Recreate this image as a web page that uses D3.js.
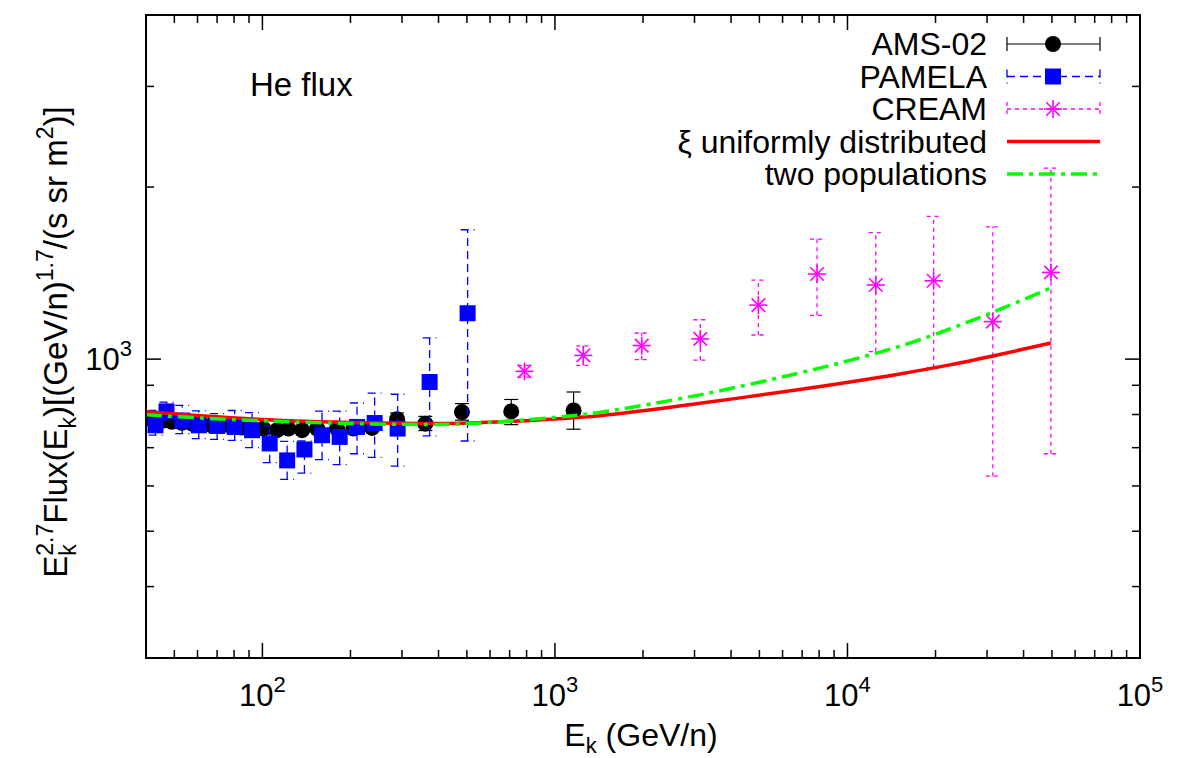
<!DOCTYPE html>
<html><head><meta charset="utf-8">
<script src="https://cdn.jsdelivr.net/npm/d3@7"></script>
<style>body{margin:0;background:#fff}svg{display:block}text{font-family:"Liberation Sans",Arial,Helvetica,sans-serif;fill:#000}</style>
</head><body><svg id="c" width="1184" height="758"></svg>
<script>
// ---- data ----
const amsE  = [42, 45.5, 49, 53, 57.5, 62, 67, 72.5, 78.5, 85, 92, 100.8, 112.3, 122.7, 136.7, 153.8, 179.9, 204.6, 237.1, 288.6, 360.5, 481, 709, 1158];
const amsF  = [783, 780, 777, 774, 771, 768, 766, 765, 762, 759, 756, 756, 751, 756, 751, 756, 756, 756, 758, 785, 771, 808, 810, 813];
const amsLo = [777, 774, 771, 768, 765, 762, 760, 759, 756, 753, 750, 750, 745, 750, 745, 749, 749, 748, 749, 767, 750, 782, 768, 754];
const amsHi = [789, 786, 783, 780, 777, 774, 772, 771, 768, 765, 762, 762, 757, 762, 757, 763, 763, 764, 767, 805, 794, 836, 850, 876];

const pamE  = [43.1, 47.0, 53.2, 60.6, 70.0, 80.4, 92.2, 105.9, 121.5, 139.2, 159.9, 183.7, 210.6, 241.9, 289.9, 372.9, 502.9];
const pamF  = [766, 810, 781, 766, 764, 761, 751, 712, 665, 695, 736, 731, 761, 773, 756, 912, 1203];
const pamLo = [736, 780, 741, 726, 724, 721, 700, 659, 616, 632, 667, 654, 683, 673, 650, 734, 719];
const pamHi = [813, 841, 830, 812, 803, 813, 806, 764, 718, 719, 811, 811, 838, 872, 868, 1089, 1684];

const creamE  = [787, 1250, 1980, 3140, 4960, 7870, 12500, 19700, 31400, 49600];
const creamF  = [952, 1015, 1056, 1085, 1243, 1409, 1348, 1371, 1163, 1418];
const creamLo = [930, 975, 998, 996, 1102, 1193, 1031, 966, 624, 683];
const creamHi = [975, 1055, 1111, 1172, 1375, 1622, 1664, 1777, 1704, 2158];

const uniE = [40, 61.4, 100, 170, 296, 475, 1000, 1425, 3130, 6870, 10180, 15090, 22360, 33150, 49600];
const uniF = [809, 796, 784, 776, 772, 772, 786, 796, 837, 885, 912, 942, 977, 1019, 1067];

const twoE = [40, 61.4, 100, 170, 296, 475, 1000, 1425, 3130, 6870, 10180, 15090, 22360, 33150, 49600];
const twoF = [799, 789, 780, 773, 769, 770, 791, 807, 866, 946, 995, 1053, 1129, 1222, 1332];

const xMajor = [1e2, 1e3, 1e4, 1e5];
const xMajorExp = ["2", "3", "4", "5"];
const yMajor = [1e3];
const yMajorExp = ["3"];
const legendLabels = ["AMS-02", "PAMELA", "CREAM", "ξ uniformly distributed", "two populations"];

// ---- drawing ----
const svg = d3.select("#c");
const L = 146, R = 1140, T = 15, B = 658;
const x = d3.scaleLog().domain([40, 1e5]).range([L, R]);
const y = d3.scaleLog().domain([300, 4000]).range([B, T]);
const FS = 32, TFS = 31, SFS = 22;

// ticks
const g = svg.append("g");
const xMinor = [];
for (let d = 10; d <= 1e4; d *= 10) for (let k = 2; k <= 9; k++) { const v = k * d; if (v > 40 && v < 1e5) xMinor.push(v); }
const yMinor = [];
for (let d = 100; d <= 1000; d *= 10) for (let k = 2; k <= 9; k++) { const v = k * d; if (v > 300 && v < 4000 && v !== 1000) yMinor.push(v); }
const tick = (x1, y1, x2, y2) => g.append("line").attr("x1", x1).attr("y1", y1).attr("x2", x2).attr("y2", y2).attr("stroke", "#000").attr("stroke-width", 1.5);
const MJ = 15, MN = 8;
xMajor.forEach(v => { tick(x(v), B, x(v), B - MJ); tick(x(v), T, x(v), T + MJ); });
xMinor.forEach(v => { tick(x(v), B, x(v), B - MN); tick(x(v), T, x(v), T + MN); });
yMajor.forEach(v => { tick(L, y(v), L + MJ, y(v)); tick(R, y(v), R - MJ, y(v)); });
yMinor.forEach(v => { tick(L, y(v), L + MN, y(v)); tick(R, y(v), R - MN, y(v)); });

// tick labels
xMajor.forEach((v, i) => {
  const t = svg.append("text").attr("x", x(v)).attr("y", 706).attr("text-anchor", "middle").attr("font-size", TFS);
  t.append("tspan").text("10");
  t.append("tspan").attr("dy", -14).attr("font-size", SFS).text(xMajorExp[i]);
});
yMajor.forEach((v, i) => {
  const t = svg.append("text").attr("x", 132).attr("y", y(v) + 11).attr("text-anchor", "end").attr("font-size", TFS);
  t.append("tspan").text("10");
  t.append("tspan").attr("dy", -14).attr("font-size", SFS).text(yMajorExp[i]);
});

// axis labels
{
  const t = svg.append("text").attr("x", 641).attr("y", 746).attr("text-anchor", "middle").attr("font-size", FS);
  t.append("tspan").text("E");
  t.append("tspan").attr("dy", 7).attr("font-size", SFS).text("k");
  t.append("tspan").attr("dy", -7).text(" (GeV/n)");
}
{
  const YF = 33, YS = 23;
  const t = svg.append("text").attr("transform", "translate(67,342) rotate(-90)").attr("text-anchor", "middle").attr("font-size", YF);
  t.append("tspan").text("E");
  t.append("tspan").attr("dy", 9).attr("font-size", YS).text("k");
  t.append("tspan").attr("dx", -11.5).attr("dy", -23).attr("font-size", YS).text("2.7");
  t.append("tspan").attr("dy", 14).text("Flux(E");
  t.append("tspan").attr("dy", 9).attr("font-size", YS).text("k");
  t.append("tspan").attr("dy", -9).text(")[(GeV/n)");
  t.append("tspan").attr("dy", -14).attr("font-size", YS).text("1.7");
  t.append("tspan").attr("dy", 14).text("/(s sr m");
  t.append("tspan").attr("dy", -14).attr("font-size", YS).text("2");
  t.append("tspan").attr("dy", 14).text(")]");
}
svg.append("text").attr("x", 250).attr("y", 96).attr("font-size", 33).text("He flux");

// clip
svg.append("clipPath").attr("id", "clip").append("rect").attr("x", L).attr("y", T).attr("width", R - L).attr("height", B - T);
const P = svg.append("g").attr("clip-path", "url(#clip)");

const CAP = 7;
function errbars(E, lo, hi, color, dash, w) {
  E.forEach((e, i) => {
    const px = x(e);
    const gg = P.append("g").attr("stroke", color).attr("stroke-width", w).attr("stroke-dasharray", dash);
    gg.append("line").attr("x1", px).attr("x2", px).attr("y1", y(lo[i])).attr("y2", y(hi[i]));
    gg.append("line").attr("x1", px - CAP).attr("x2", px + CAP).attr("y1", y(lo[i])).attr("y2", y(lo[i]));
    gg.append("line").attr("x1", px - CAP).attr("x2", px + CAP).attr("y1", y(hi[i])).attr("y2", y(hi[i]));
  });
}
function star(sel, cx, cy, r) {
  const gg = sel.append("g").attr("stroke", "#ff00ff").attr("stroke-width", 1.6);
  gg.append("line").attr("x1", cx - r).attr("x2", cx + r).attr("y1", cy).attr("y2", cy);
  gg.append("line").attr("x1", cx).attr("x2", cx).attr("y1", cy - r).attr("y2", cy + r);
  const d = r * 0.75;
  gg.append("line").attr("x1", cx - d).attr("x2", cx + d).attr("y1", cy - d).attr("y2", cy + d);
  gg.append("line").attr("x1", cx - d).attr("x2", cx + d).attr("y1", cy + d).attr("y2", cy - d);
}

// AMS
errbars(amsE, amsLo, amsHi, "#000", null, 1.2);
amsE.forEach((e, i) => P.append("circle").attr("cx", x(e)).attr("cy", y(amsF[i])).attr("r", 8).attr("fill", "#000"));
// PAMELA
errbars(pamE, pamLo, pamHi, "#0000ff", "8,5", 1.3);
pamE.forEach((e, i) => P.append("rect").attr("x", x(e) - 8).attr("y", y(pamF[i]) - 8).attr("width", 16).attr("height", 16).attr("fill", "#0000ff"));
// CREAM
errbars(creamE, creamLo, creamHi, "#ff00ff", "4,4", 1.3);
creamE.forEach((e, i) => star(P, x(e), y(creamF[i]), 9));

// curves
const line = d3.line().x(d => x(d[0])).y(d => y(d[1])).curve(d3.curveCatmullRom);
P.append("path").attr("d", line(uniE.map((e, i) => [e, uniF[i]]))).attr("fill", "none").attr("stroke", "#ff0000").attr("stroke-width", 3.5);
P.append("path").attr("d", line(twoE.map((e, i) => [e, twoF[i]]))).attr("fill", "none").attr("stroke", "#00ff00").attr("stroke-width", 3.5).attr("stroke-dasharray", "16,6,4,6");

// legend
const LY = [44, 76.5, 109, 141.5, 174];
const LX1 = 1007, LX2 = 1100, LM = 1053;
legendLabels.forEach((s, i) => svg.append("text").attr("x", 987).attr("y", LY[i] + 11).attr("text-anchor", "end").attr("font-size", FS).text(s));
function legErr(yy, color, dash, w) {
  const gg = svg.append("g").attr("stroke", color).attr("stroke-width", w).attr("stroke-dasharray", dash);
  gg.append("line").attr("x1", LX1).attr("x2", LX2).attr("y1", yy).attr("y2", yy);
  gg.append("line").attr("x1", LX1).attr("x2", LX1).attr("y1", yy - CAP).attr("y2", yy + CAP);
  gg.append("line").attr("x1", LX2).attr("x2", LX2).attr("y1", yy - CAP).attr("y2", yy + CAP);
}
legErr(LY[0], "#000", null, 1.2);
svg.append("circle").attr("cx", LM).attr("cy", LY[0]).attr("r", 8).attr("fill", "#000");
legErr(LY[1], "#0000ff", "8,5", 1.3);
svg.append("rect").attr("x", LM - 8).attr("y", LY[1] - 8).attr("width", 16).attr("height", 16).attr("fill", "#0000ff");
legErr(LY[2], "#ff00ff", "4,4", 1.3);
star(svg, LM, LY[2], 9);
svg.append("line").attr("x1", LX1).attr("x2", LX2).attr("y1", LY[3]).attr("y2", LY[3]).attr("stroke", "#ff0000").attr("stroke-width", 3.5);
svg.append("line").attr("x1", LX1).attr("x2", LX2).attr("y1", LY[4]).attr("y2", LY[4]).attr("stroke", "#00ff00").attr("stroke-width", 3.5).attr("stroke-dasharray", "16,6,4,6");

// border
svg.append("rect").attr("x", L).attr("y", T).attr("width", R - L).attr("height", B - T).attr("fill", "none").attr("stroke", "#000").attr("stroke-width", 2);
</script></body></html>
